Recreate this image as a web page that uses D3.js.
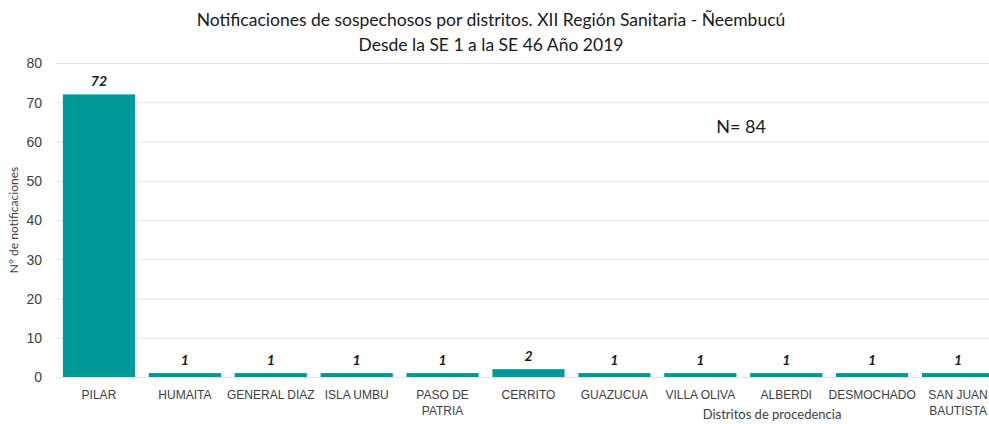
<!DOCTYPE html>
<html>
<head>
<meta charset="utf-8">
<script src="https://cdn.jsdelivr.net/npm/d3@7"></script>
<style>
  body { margin: 0; background: #fff; }
  svg { font-family: Lato, "Open Sans", sans-serif; }
</style>
</head>
<body>
<svg id="chart" width="989" height="424"></svg>
<script>
var distritos = ["PILAR", "HUMAITA", "GENERAL DIAZ", "ISLA UMBU", "PASO DE PATRIA", "CERRITO",
  "GUAZUCUA", "VILLA OLIVA", "ALBERDI", "DESMOCHADO", "SAN JUAN BAUTISTA"];
var notificaciones = [72, 1, 1, 1, 1, 2, 1, 1, 1, 1, 1];
var yTicks = [0, 10, 20, 30, 40, 50, 60, 70, 80];
// labels that wrap onto two lines
var etiquetas = {"PASO DE PATRIA": ["PASO DE", "PATRIA"], "SAN JUAN BAUTISTA": ["SAN JUAN", "BAUTISTA"]};

var svg = d3.select("#chart");
var x = d3.scaleBand().domain(distritos).range([56, 1001]).paddingInner(0.16).paddingOuter(0.08);
var y = d3.scaleLinear().domain([0, 80]).range([377, 63]);

// grid
svg.append("g").selectAll("line")
  .data(yTicks)
  .enter()
  .append("line")
  .attr("x1", 56).attr("x2", 1001)
  .attr("y1", function (d) { return y(d) + 0.5; })
  .attr("y2", function (d) { return y(d) + 0.5; })
  .attr("stroke", "#e4e4e4").attr("stroke-width", 1);

// y axis labels
var yAxis = d3.axisLeft(y).tickValues(yTicks).tickSize(0).tickPadding(0);
var gy = svg.append("g").attr("transform", "translate(42,0)").call(yAxis);
gy.select(".domain").remove();
gy.selectAll("text").attr("font-size", 14).attr("fill", "#404040").attr("dy", "0.35em");

// bars
svg.append("g").selectAll("rect")
  .data(notificaciones)
  .enter()
  .append("rect")
  .attr("x", function (d, i) { return x(distritos[i]); })
  .attr("width", x.bandwidth())
  .attr("y", function (d) { return y(d); })
  .attr("height", function (d) { return y(0) - y(d); })
  .attr("fill", "#009999");

// value labels
svg.append("g").selectAll("text")
  .data(notificaciones)
  .enter()
  .append("text")
  .attr("x", function (d, i) { return x(distritos[i]) + x.bandwidth() / 2; })
  .attr("y", function (d) { return y(d) - 8; })
  .attr("text-anchor", "middle")
  .attr("font-size", 14).attr("font-weight", "bold").attr("font-style", "italic")
  .attr("fill", "#1a1a1a")
  .text(function (d) { return d; });

// category labels
var xAxis = d3.axisBottom(x).tickSize(0).tickPadding(0).tickFormat("");
var gx = svg.append("g").attr("transform", "translate(0,377)").call(xAxis);
gx.select(".domain").remove();
gx.selectAll(".tick").each(function (d) {
  var lines = etiquetas[d] || [d];
  var t = d3.select(this).append("text")
    .attr("text-anchor", "middle")
    .attr("font-size", 12).attr("fill", "#404040");
  lines.forEach(function (l, k) {
    t.append("tspan").attr("x", 0).attr("y", 22 + k * 16).text(l);
  });
});

// titles
var title = svg.append("text").attr("text-anchor", "middle").attr("font-size", 17.5).attr("fill", "#1a1a1a");
title.append("tspan").attr("x", 491).attr("y", 26).text("Notificaciones de sospechosos por distritos. XII Región Sanitaria - Ñeembucú");
title.append("tspan").attr("x", 491).attr("y", 51).text("Desde la SE 1 a la SE 46 Año 2019");

svg.append("text")
  .attr("transform", "translate(18,220) rotate(-90)")
  .attr("text-anchor", "middle").attr("font-size", 12).attr("fill", "#404040")
  .text("N° de notificaciones");

svg.append("text")
  .attr("x", 772).attr("y", 419)
  .attr("text-anchor", "middle").attr("font-size", 13).attr("fill", "#404040")
  .text("Distritos de procedencia");

svg.append("text")
  .attr("x", 741).attr("y", 133)
  .attr("text-anchor", "middle").attr("font-size", 18).attr("fill", "#1a1a1a")
  .text("N= 84");
</script>
</body>
</html>
